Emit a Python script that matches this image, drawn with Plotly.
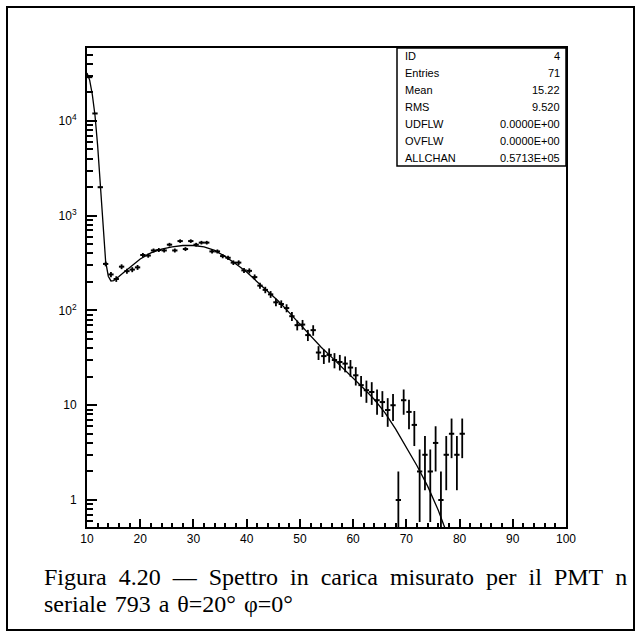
import numpy as np
import plotly.graph_objects as go

# ---- data: histogram bin centres and contents ----
bin_centers = [10.5, 11.5, 12.5, 13.5, 14.5, 15.5, 16.5, 17.5, 18.5, 19.5,
               20.5, 21.5, 22.5, 23.5, 24.5, 25.5, 26.5, 27.5, 28.5, 29.5,
               30.5, 31.5, 32.5, 33.5, 34.5, 35.5, 36.5, 37.5, 38.5, 39.5,
               40.5, 41.5, 42.5, 43.5, 44.5, 45.5, 46.5, 47.5, 48.5, 49.5,
               50.5, 51.5, 52.5, 53.5, 54.5, 55.5, 56.5, 57.5, 58.5, 59.5,
               60.5, 61.5, 62.5, 63.5, 64.5, 65.5, 66.5, 67.5, 68.5, 69.5,
               70.5, 71.5, 72.5, 73.5, 74.5, 75.5, 76.5, 77.5, 78.5, 79.5, 80.5]
counts = [29000, 12000, 2000, 310, 240, 215, 290, 260, 270, 285,
          385, 380, 430, 435, 430, 495, 430, 540, 445, 540,
          495, 520, 520, 420, 420, 375, 360, 320, 320, 265,
          262, 225, 183, 165, 148, 122, 117, 106, 87, 70,
          71, 55, 62, 36, 33, 34, 30, 28.6, 27.5, 25,
          20.7, 16.3, 14.4, 13.8, 11.3, 10.8, 8.9, 10, 1, 11.3,
          8.5, 6.2, 2, 3, 2, 4, 1, 3, 5, 3, 5]

# ---- fitted curve ----
fit_x = [10.0, 10.5, 11.0, 11.5, 12.0, 12.5, 13.0, 13.5, 14.0, 14.5, 15.0, 15.5,
         16, 17, 18, 19, 20, 22, 24, 26, 28, 30, 32, 34, 36, 38, 40, 42, 44, 46,
         48, 50, 52, 54, 56, 58, 60, 62, 64, 66, 68, 70, 72, 74, 75, 76, 77, 77.3]
fit_y = [32000, 27000, 19000, 11500, 5500, 2100, 750, 330, 230, 205, 207, 215,
         228, 255, 285, 315, 350, 405, 445, 470, 485, 485, 470, 430, 370, 310,
         255, 200, 160, 125, 95, 72, 55, 41, 32, 25, 19.5, 15, 11.5, 8.3, 5.6,
         3.6, 2.3, 1.4, 1.05, 0.78, 0.55, 0.5]

# ---- axis ticks ----
y_tickvals = [1, 10, 100, 1000, 10000]
y_ticktext = ["1", "10", "10<sup>2</sup>", "10<sup>3</sup>", "10<sup>4</sup>"]
x_tickvals = [10, 20, 30, 40, 50, 60, 70, 80, 90, 100]

# ---- statistics box ----
stat_labels = ["ID", "Entries", "Mean", "RMS", "UDFLW", "OVFLW", "ALLCHAN"]
stat_values = ["4", "71", "15.22", "9.520", "0.0000E+00", "0.0000E+00", "0.5713E+05"]

caption1_words = ["Figura", "4.20", "\u2014", "Spettro", "in", "carica", "misurato",
                  "per", "il", "PMT", "n"]
caption2_words = ["seriale", "793", "a", "\u03b8=20\u00b0", "\u03c6=0\u00b0"]

# ---- figure geometry (pixels) ----
W, H = 642, 637
L, R, T, B = 87, 566, 48, 527
ML, MR, MT, MB = L, W - R, T, H - B
pw, ph = R - L, B - T

def px2x(p):
    return (p - L) / pw

def px2y(p):
    return (B - p) / ph

err = np.sqrt(np.array(counts, dtype=float))
err_minus = np.minimum(err, np.array(counts) * 0.999)

fig = go.Figure()
fig.add_trace(go.Scatter(
    x=fit_x, y=fit_y, mode="lines",
    line=dict(color="black", width=1.3),
    showlegend=False, hoverinfo="skip"))
fig.add_trace(go.Scatter(
    x=bin_centers, y=counts, mode="markers",
    marker=dict(size=1, color="black"),
    error_x=dict(type="constant", value=0.5, width=0, thickness=2, color="black"),
    error_y=dict(type="data", array=err, arrayminus=err_minus, width=0,
                 thickness=1.8, color="black"),
    showlegend=False))

tickfont = dict(family="Liberation Sans", size=12, color="black")

fig.update_xaxes(
    range=[10, 100], showgrid=False, zeroline=False,
    showline=True, linecolor="black", linewidth=2, mirror=True,
    ticks="inside", ticklen=8, tickwidth=1.5, tickcolor="black",
    tickvals=x_tickvals, tickfont=tickfont,
    minor=dict(ticks="inside", ticklen=4, tickwidth=1.5, dtick=2, tickcolor="black"))
fig.update_yaxes(
    type="log", range=[-0.285, 4.77], showgrid=False, zeroline=False,
    showline=True, linecolor="black", linewidth=2, mirror=True,
    ticks="inside", ticklen=10, tickwidth=1.5, tickcolor="black",
    tickvals=y_tickvals, ticktext=y_ticktext, tickfont=tickfont,
    ticklabelstandoff=6,
    minor=dict(ticks="inside", ticklen=6, tickwidth=1.5, dtick="D1", tickcolor="black"))

shapes = []
# outer frame around the whole figure
shapes.append(dict(type="rect", xref="paper", yref="paper",
                   x0=px2x(7), x1=px2x(634), y0=px2y(630), y1=px2y(7),
                   line=dict(color="black", width=2), layer="below"))
# statistics box
box_l, box_r, box_t, box_b = 397, R, T, 166
shapes.append(dict(type="rect", xref="paper", yref="paper",
                   x0=px2x(box_l), x1=px2x(box_r), y0=px2y(box_b), y1=px2y(box_t),
                   line=dict(color="black", width=1.5), fillcolor="white", layer="above"))

annotations = []
row_h = (box_b - box_t) / len(stat_labels)
statfont = dict(family="Liberation Sans", size=11, color="black")
for i, (lab, val) in enumerate(zip(stat_labels, stat_values)):
    yc = box_t + row_h * (i + 0.5)
    annotations.append(dict(xref="paper", yref="paper", x=px2x(box_l + 6), y=px2y(yc),
                            text=lab, showarrow=False, xanchor="left", yanchor="middle",
                            font=statfont))
    annotations.append(dict(xref="paper", yref="paper", x=px2x(box_r - 4), y=px2y(yc),
                            text=val, showarrow=False, xanchor="right", yanchor="middle",
                            font=statfont))

# caption (justified first line imitated with en-spaces)
capfont = dict(family="Liberation Serif", size=24, color="black")
annotations.append(dict(xref="paper", yref="paper", x=px2x(42), y=px2y(577),
                        text="\u2002".join(caption1_words), showarrow=False,
                        xanchor="left", yanchor="middle", font=capfont))
annotations.append(dict(xref="paper", yref="paper", x=px2x(42), y=px2y(604),
                        text="\u2004".join(caption2_words), showarrow=False,
                        xanchor="left", yanchor="middle", font=capfont))

fig.update_layout(
    width=W, height=H, autosize=False,
    margin=dict(l=ML, r=MR, t=MT, b=MB, pad=0),
    paper_bgcolor="white", plot_bgcolor="white",
    shapes=shapes, annotations=annotations, showlegend=False)

fig.write_html("out.html")
